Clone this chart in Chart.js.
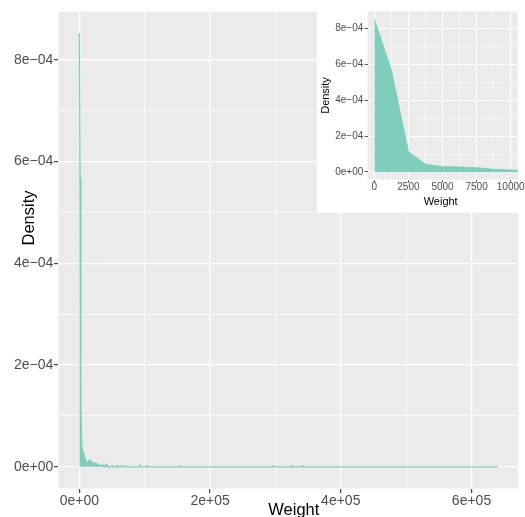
<!DOCTYPE html>
<html>
<head>
<meta charset="utf-8">
<script src="https://cdn.jsdelivr.net/npm/chart.js@4/dist/chart.umd.min.js"></script>
<style>
  html, body { margin: 0; padding: 0; background: #ffffff; }
  #wrap { position: relative; width: 525px; height: 517px; overflow: hidden; }
  #main { position: absolute; left: 0; top: 0; }
  #inset { position: absolute; left: 317px; top: 0; background: #ffffff; }
</style>
</head>
<body>
<div id="wrap">
  <canvas id="main" width="525" height="517"></canvas>
  <canvas id="inset" width="208" height="212"></canvas>
</div>
<script>
// Kernel density estimate of Weight (grid points of the estimate)
const weights = [
  0, 1252, 2505, 3757, 5010, 6262, 7514, 8767, 10019, 11271, 12524, 13776,
  15029, 16281, 17533, 18786, 20038, 21290, 22543, 23795, 25048, 26300, 27552,
  28805, 30057, 31309, 32562, 33814, 35067, 36319, 37571, 38824, 40076, 41329,
  42581, 43833,
  48843, 50096, 51348,
  56357, 57610, 58862,
  61367, 62620, 63872,
  67629, 68882, 70134,
  91426, 92678, 93931,
  102697, 103949, 105202,
  151541, 152793, 154046,
  295566, 296819, 298071,
  324372, 325624, 326876,
  340653, 341905, 343157,
  638474, 639726
];
const densities = [
  8.52e-4, 5.68e-4, 1.13e-4, 0.43e-4, 0.30e-4, 0.28e-4, 0.24e-4, 0.15e-4, 0.11e-4, 0.09e-4, 0.07e-4, 0.09e-4,
  0.12e-4, 0.13e-4, 0.11e-4, 0.10e-4, 0.08e-4, 0.06e-4, 0.07e-4, 0.08e-4, 0.07e-4, 0.05e-4, 0.06e-4,
  0.05e-4, 0.03e-4, 0.02e-4, 0.01e-4, 0.02e-4, 0.05e-4, 0.03e-4, 0.01e-4, 0, 0.03e-4, 0.05e-4,
  0.03e-4, 0,
  0, 0.025e-4, 0,
  0, 0.025e-4, 0,
  0, 0.025e-4, 0,
  0, 0.02e-4, 0,
  0, 0.03e-4, 0,
  0, 0.025e-4, 0,
  0, 0.02e-4, 0,
  0, 0.02e-4, 0,
  0, 0.02e-4, 0,
  0, 0.02e-4, 0,
  0, 0.02e-4
];

// Axis breaks and labels
const mainXMajor = [0, 2e5, 4e5, 6e5];
const mainXMinor = [1e5, 3e5, 5e5];
const mainXLabels = ['0e+00', '2e+05', '4e+05', '6e+05'];
const yMajor = [0, 2e-4, 4e-4, 6e-4, 8e-4];
const yMinor = [1e-4, 3e-4, 5e-4, 7e-4];
const yLabels = ['0e+00', '2e\u221204', '4e\u221204', '6e\u221204', '8e\u221204'];
const insetXMajor = [0, 2500, 5000, 7500, 10000];
const insetXMinor = [1250, 3750, 6250, 8750];
const insetXLabels = ['0', '2500', '5000', '7500', '10000'];

const FONT = '"Liberation Sans", Arial, Helvetica, sans-serif';
const FILL = '#7FCDBB';

// Grey panel behind the plot area and the axis titles
const panelPlugin = {
  id: 'panel',
  beforeDraw(chart, args, opts) {
    const { ctx, chartArea: a } = chart;
    ctx.save();
    ctx.fillStyle = '#FFFFFF';
    ctx.fillRect(0, 0, chart.width, chart.height);
    ctx.fillStyle = '#EBEBEB';
    ctx.fillRect(a.left, a.top, a.right - a.left, a.bottom - a.top);
    ctx.restore();
  },
  afterDraw(chart, args, opts) {
    const { ctx, chartArea: a } = chart;
    ctx.save();
    ctx.fillStyle = '#000000';
    ctx.textAlign = 'center';
    ctx.textBaseline = 'alphabetic';
    ctx.font = opts.size + 'px ' + FONT;
    ctx.fillText(opts.xTitle, (a.left + a.right) / 2 + opts.xShift, a.bottom + opts.xBaseline);
    ctx.translate(opts.yBaseline, (a.top + a.bottom) / 2 + opts.yShift);
    ctx.rotate(-Math.PI / 2);
    ctx.fillText(opts.yTitle, 0, 0);
    ctx.restore();
  }
};

function scaleOptions(o) {
  const all = o.major.concat(o.minor).sort((p, q) => p - q);
  const isMajor = v => o.major.indexOf(v) >= 0;
  return {
    type: 'linear',
    position: o.position,
    min: o.min,
    max: o.max,
    afterBuildTicks: s => { s.ticks = all.map(v => ({ value: v })); },
    afterFit: s => {
      if (o.position === 'bottom') s.height = o.size; else s.width = o.size;
    },
    border: { display: false },
    grid: {
      color: '#FFFFFF',
      lineWidth: c => (c.tick && isMajor(c.tick.value)) ? o.majorWidth : o.minorWidth,
      drawOnChartArea: true,
      drawTicks: true,
      tickLength: o.tickLength,
      tickWidth: o.tickWidth,
      tickColor: c => (c.tick && isMajor(c.tick.value)) ? '#333333' : 'rgba(0,0,0,0)'
    },
    ticks: {
      autoSkip: false,
      maxRotation: 0,
      minRotation: 0,
      padding: o.padding,
      color: '#4D4D4D',
      font: { family: FONT, size: o.fontSize, lineHeight: 1 },
      callback: v => {
        const i = o.major.indexOf(v);
        return i >= 0 ? o.labels[i] : '';
      }
    }
  };
}

function densityDataset(width) {
  return {
    data: weights.map((w, i) => ({ x: w, y: densities[i] })),
    borderColor: FILL,
    backgroundColor: FILL,
    borderWidth: width,
    fill: 'origin',
    pointRadius: 0,
    tension: 0
  };
}

const Y_MIN = -0.426e-4;
const Y_MAX = 8.946e-4;

// Full range of Weight
new Chart(document.getElementById('main'), {
  type: 'line',
  data: { datasets: [densityDataset(1.2)] },
  options: {
    responsive: false,
    animation: false,
    devicePixelRatio: 1,
    events: [],
    layout: { padding: { top: 11.5, right: 6.6, bottom: 0, left: 0 } },
    plugins: {
      legend: { display: false },
      tooltip: { enabled: false },
      panel: { xTitle: 'Weight', yTitle: 'Density', size: 16.5,
               xShift: 5.4, xBaseline: 26, yShift: -32, yBaseline: 34 }
    },
    scales: {
      x: scaleOptions({ position: 'bottom', min: -31986, max: 671712,
        major: mainXMajor, minor: mainXMinor, labels: mainXLabels,
        size: 28.5, tickLength: 4.5, tickWidth: 1.1, padding: 1, fontSize: 14,
        majorWidth: 1.3, minorWidth: 0.65 }),
      y: scaleOptions({ position: 'left', min: Y_MIN, max: Y_MAX,
        major: yMajor, minor: yMinor, labels: yLabels,
        size: 58.4, tickLength: 4.5, tickWidth: 1.1, padding: 0.6, fontSize: 14,
        majorWidth: 1.3, minorWidth: 0.65 })
    }
  },
  plugins: [panelPlugin]
});

// Zoom on the low weights
new Chart(document.getElementById('inset'), {
  type: 'line',
  data: { datasets: [densityDataset(0.8)] },
  options: {
    responsive: false,
    animation: false,
    devicePixelRatio: 1,
    events: [],
    layout: { padding: { top: 11.3, right: 7.2, bottom: 0, left: 0 } },
    plugins: {
      legend: { display: false },
      tooltip: { enabled: false },
      panel: { xTitle: 'Weight', yTitle: 'Density', size: 11,
               xShift: -2, xBaseline: 25, yShift: 0, yBaseline: 11.8 }
    },
    scales: {
      x: scaleOptions({ position: 'bottom', min: -500, max: 10520,
        major: insetXMajor, minor: insetXMinor, labels: insetXLabels,
        size: 32.35, tickLength: 3, tickWidth: 0.8, padding: 0, fontSize: 10,
        majorWidth: 1.0, minorWidth: 0.5 }),
      y: scaleOptions({ position: 'left', min: Y_MIN, max: Y_MAX,
        major: yMajor, minor: yMinor, labels: yLabels,
        size: 50.5, tickLength: 3, tickWidth: 0.8, padding: 1.2, fontSize: 10,
        majorWidth: 1.0, minorWidth: 0.5 })
    }
  },
  plugins: [panelPlugin]
});
</script>
</body>
</html>
